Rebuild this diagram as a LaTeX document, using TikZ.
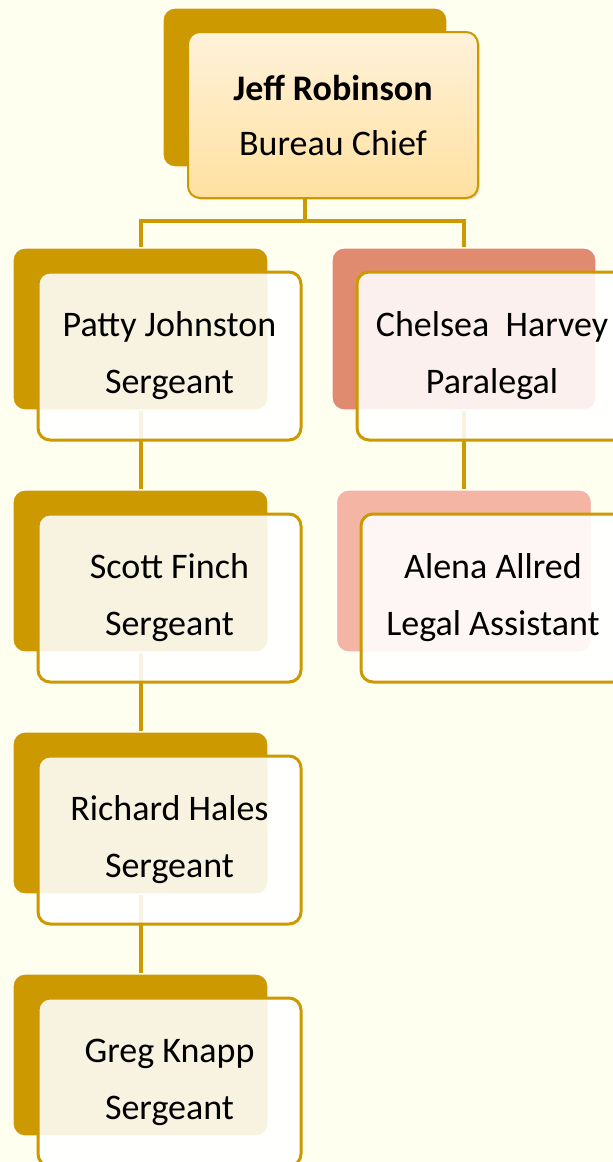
\documentclass[tikz,border=0pt]{standalone}
\usepackage{fontspec}
\setmainfont{Carlito}
\usepackage{tikz}
\usetikzlibrary{shadows}
\definecolor{paper}{RGB}{255,255,240}
\definecolor{gold}{RGB}{204,153,0}
\definecolor{salmon}{RGB}{224,139,112}
\definecolor{blush}{RGB}{244,181,165}
\definecolor{peachtop}{RGB}{255,242,218}
\definecolor{peachbot}{RGB}{255,224,160}
\tikzset{
every node/.style={font=\fontsize{18}{28.5}\selectfont, align=center}, % text in every box
tab/.style={rectangle, rounded corners=6pt, fill=gold, draw=white, line width=0.6pt, minimum width=127.5pt, minimum height=81pt, inner sep=0pt}, % coloured block behind each card
card/.style={rectangle, rounded corners=6pt, draw=gold, line width=1.5pt, fill=white, fill opacity=0.88, text opacity=1, minimum width=131.5pt, minimum height=84pt, inner sep=0pt}, % the card with the name
link/.style={draw=gold, line width=2pt}, % org chart lines
}

\begin{document}
\begin{tikzpicture}[x=0.5pt, y=-0.5pt, node distance=121pt]
		\useasboundingbox (0,0) rectangle (613,1162);
		\clip (0,0) rectangle (613,1162);
		\fill[paper] (0,0) rectangle (613,1162);
		% blocks behind the cards
		\node[tab, minimum width=142pt, minimum height=79.5pt] (jr-b) at (305,87.5) {};
		\node[tab] (pj-b) at (140.5,329) {};
		\node[tab, below of=pj-b] (sf-b) {};
		\node[tab, below of=sf-b] (rh-b) {};
		\node[tab, below of=rh-b] (gk-b) {};
		\node[tab, fill=salmon, minimum width=132pt] (ch-b) at (464,329) {};
		\node[tab, fill=blush, below of=ch-b] (aa-b) {};
		% lines
		\draw[link] (jr-b.south) -- ++(0,53) -| (pj-b.north);
		\draw[link] (jr-b.south) -- ++(0,53) -| (ch-b.north);
		\draw[link] (pj-b.south) -- (sf-b.north);
		\draw[link] (sf-b.south) -- (rh-b.north);
		\draw[link] (rh-b.south) -- (gk-b.north);
		\draw[link] (ch-b.south) -- (aa-b.north);
		% cards
		\node[card, fill opacity=1, line width=1pt, top color=peachtop, bottom color=peachbot, minimum width=145pt, minimum height=83pt, font=\fontsize{18}{27.5}\selectfont, drop shadow={opacity=0.2, shadow xshift=1pt, shadow yshift=-1pt}] (jr) at ([shift={(28,27.5)}]jr-b) {\textbf{Jeff Robinson}\\Bureau Chief};
		\node[card] (pj) at ([shift={(29,27)}]pj-b) {Patty Johnston\\Sergeant};
		\node[card] (sf) at ([shift={(29,27)}]sf-b) {Scott Finch\\Sergeant};
		\node[card] (rh) at ([shift={(29,27)}]rh-b) {Richard Hales\\Sergeant};
		\node[card] (gk) at ([shift={(29,27)}]gk-b) {Greg Knapp\\Sergeant};
		\node[card, minimum width=135pt] (ch) at ([shift={(28,27)}]ch-b) {Chelsea~~Harvey\\Paralegal};
		\node[card, minimum width=132pt] (aa) at ([shift={(29,27)}]aa-b) {Alena Allred\\Legal Assistant};
	\end{tikzpicture}
\end{document}
